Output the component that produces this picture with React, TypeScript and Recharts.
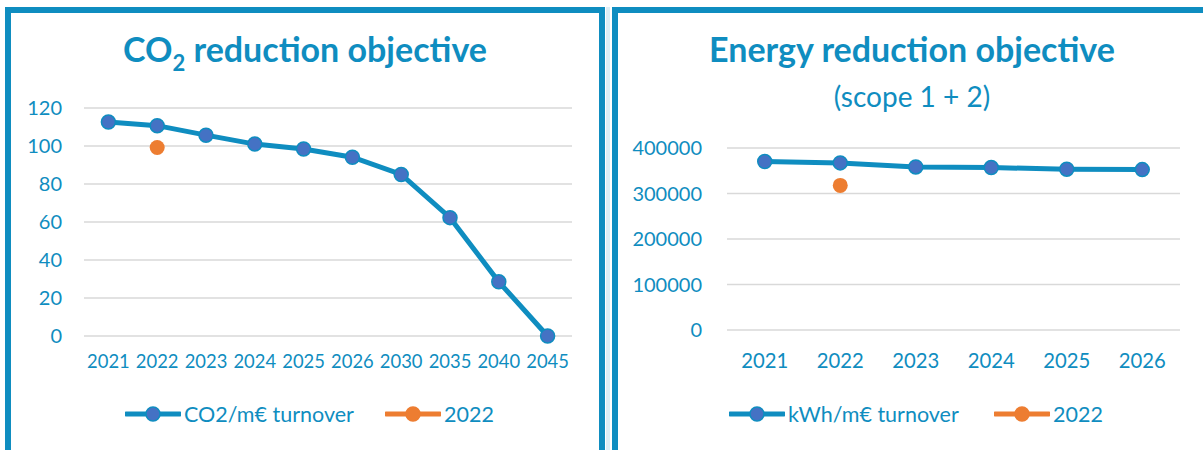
import React from "react";
import { LineChart, Line, XAxis, YAxis, CartesianGrid } from "recharts";

const co2Years = ["2021", "2022", "2023", "2024", "2025", "2026", "2030", "2035", "2040", "2045"];
const co2Target = [112.6, 110.7, 105.7, 101, 98.4, 94.1, 85, 62.3, 28.5, 0];
const co2Actual = [null, 99.2, null, null, null, null, null, null, null, null];
const co2Ticks = [0, 20, 40, 60, 80, 100, 120];

const energyYears = ["2021", "2022", "2023", "2024", "2025", "2026"];
const energyTarget = [370200, 367300, 358400, 357000, 353500, 352500];
const energyActual = [null, 317800, null, null, null, null];
const energyTicks = [0, 100000, 200000, 300000, 400000];

const co2Names = ["CO2/m€ turnover", "2022"];
const energyNames = ["kWh/m€ turnover", "2022"];

const BLUE = "#0F8DC0";
const MARKER = "#4472C4";
const ORANGE = "#ED7D31";
const GRID = "#D9D9D9";
const FONT = "Lato, 'Open Sans', sans-serif";

const co2Data = co2Years.map((year, i) => ({ year, target: co2Target[i], actual: co2Actual[i] }));
const energyData = energyYears.map((year, i) => ({ year, target: energyTarget[i], actual: energyActual[i] }));

function LegendRow({ names, left }: { names: string[]; left: number[] }) {
  const colors = [BLUE, ORANGE];
  const fills = [MARKER, ORANGE];
  return (
    <>
      {names.map((n, i) => (
        <div key={n} style={{ position: "absolute", left: left[i], top: 402, height: 24, display: "flex", alignItems: "center" }}>
          <svg width={56} height={24}>
            <line x1={1} x2={55} y1={12} y2={12} stroke={colors[i]} strokeWidth={5} strokeLinecap="round" />
            <circle cx={28} cy={12} r={7} fill={fills[i]} stroke={colors[i]} strokeWidth={1.5} />
          </svg>
          <span style={{ fontSize: 21.5, color: BLUE, marginLeft: 3, fontFamily: FONT }}>{n}</span>
        </div>
      ))}
    </>
  );
}

export default function App() {
  const tickStyle = { fill: BLUE, fontFamily: FONT };
  return (
    <div style={{ position: "absolute", left: 0, top: 0, width: 1203, height: 450, overflow: "hidden", background: "#fff", fontFamily: FONT }}>
      {/* left panel */}
      <div style={{ position: "absolute", left: 5, top: 7, width: 588, height: 470, border: `6px solid ${BLUE}` }} />
      <div style={{ position: "absolute", left: 606, top: 7, width: 4, height: 450, background: "#DCEEF6" }} />
      {/* right panel */}
      <div style={{ position: "absolute", left: 612, top: 7, width: 620, height: 470, border: `6px solid ${BLUE}` }} />

      <div style={{ position: "absolute", left: 5, width: 600, top: 28, textAlign: "center", color: BLUE, fontSize: 34, fontWeight: 700 }}>
        CO<sub style={{ fontSize: 22, verticalAlign: -9, lineHeight: 0 }}>2</sub> reduction objective
      </div>
      <div style={{ position: "absolute", left: 612, width: 600, top: 28, textAlign: "center", color: BLUE, fontSize: 34, fontWeight: 700 }}>
        Energy reduction objective
      </div>
      <div style={{ position: "absolute", left: 612, width: 600, top: 79, textAlign: "center", color: BLUE, fontSize: 28 }}>
        (scope 1 + 2)
      </div>

      <div style={{ position: "absolute", left: 0, top: 0 }}>
        <LineChart width={605} height={450} data={co2Data} margin={{ top: 108, right: 33, bottom: 84, left: 0 }}>
          <CartesianGrid vertical={false} stroke={GRID} strokeWidth={1.5} />
          <XAxis dataKey="year" axisLine={false} tickLine={false} tickSize={0} tickMargin={19} height={30}
            padding={{ left: 24.4, right: 24.4 }} interval={0} tick={{ ...tickStyle, fontSize: 18.4 }} />
          <YAxis domain={[0, 120]} ticks={co2Ticks} axisLine={false} tickLine={false} tickSize={0} tickMargin={22}
            width={84} tick={{ ...tickStyle, fontSize: 20 }} />
          <Line dataKey="target" stroke={BLUE} strokeWidth={5} isAnimationActive={false}
            dot={{ r: 7, fill: MARKER, stroke: BLUE, strokeWidth: 1.5 }} />
          <Line dataKey="actual" stroke={ORANGE} strokeWidth={5} isAnimationActive={false}
            dot={{ r: 7.5, fill: ORANGE, stroke: ORANGE, strokeWidth: 0 }} />
        </LineChart>
      </div>

      <div style={{ position: "absolute", left: 605, top: 0 }}>
        <LineChart width={598} height={450} data={energyData} margin={{ top: 148, right: 23, bottom: 90, left: 0 }}>
          <CartesianGrid vertical={false} stroke={GRID} strokeWidth={1.5} />
          <XAxis dataKey="year" axisLine={false} tickLine={false} tickSize={0} tickMargin={24} height={30}
            padding={{ left: 37.75, right: 37.75 }} interval={0} tick={{ ...tickStyle, fontSize: 20.3 }} />
          <YAxis domain={[0, 400000]} ticks={energyTicks} axisLine={false} tickLine={false} tickSize={0} tickMargin={25}
            width={122} tick={{ ...tickStyle, fontSize: 20 }} />
          <Line dataKey="target" stroke={BLUE} strokeWidth={5} isAnimationActive={false}
            dot={{ r: 7, fill: MARKER, stroke: BLUE, strokeWidth: 1.5 }} />
          <Line dataKey="actual" stroke={ORANGE} strokeWidth={5} isAnimationActive={false}
            dot={{ r: 7.5, fill: ORANGE, stroke: ORANGE, strokeWidth: 0 }} />
        </LineChart>
      </div>

      <LegendRow names={co2Names} left={[125, 385]} />
      <LegendRow names={energyNames} left={[729, 994]} />
    </div>
  );
}
